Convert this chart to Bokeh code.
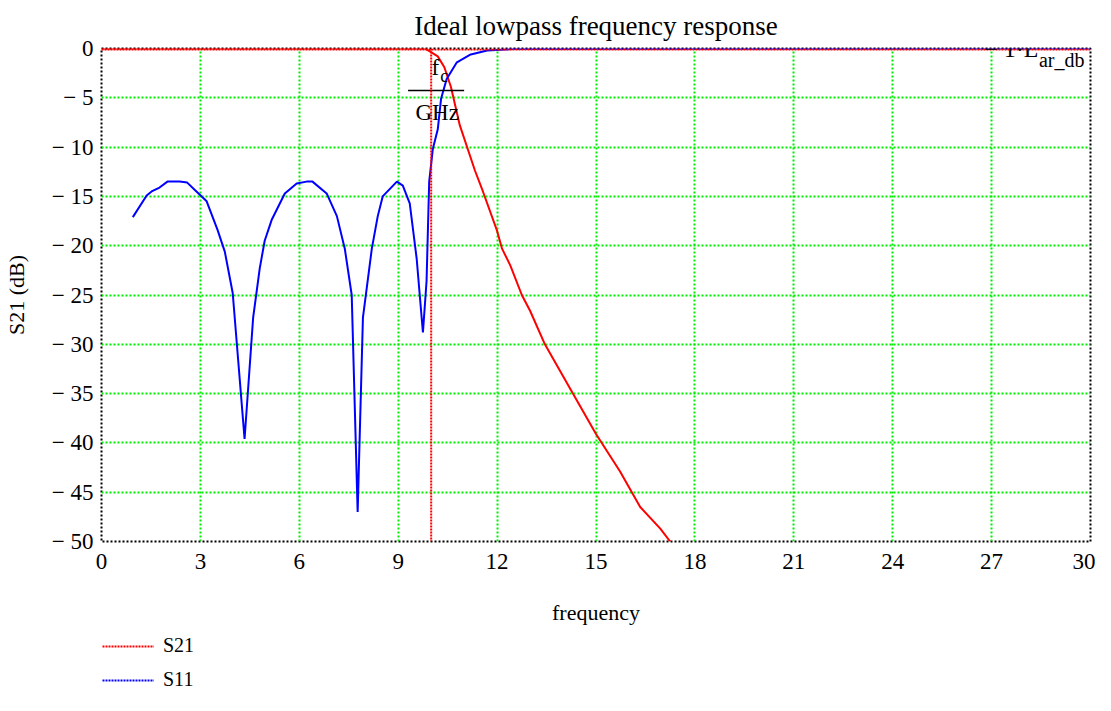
from bokeh.plotting import figure
from bokeh.layouts import column
from bokeh.models import FixedTicker, Span, Label, Legend, LegendItem, Range1d
from bokeh.embed import file_html
from bokeh.resources import INLINE

# ---- data ----
s11_freq = [0.95, 1.37, 1.52, 1.76, 2.0, 2.37, 2.6, 2.88, 3.19, 3.52, 3.74, 3.98, 4.34,
            4.6, 4.8, 4.95, 5.16, 5.56, 5.92, 6.22, 6.4, 6.83, 7.14, 7.38, 7.59, 7.77,
            7.93, 8.2, 8.38, 8.53, 8.96, 9.14, 9.35, 9.56, 9.75, 9.86, 9.94, 10.05,
            10.2, 10.3, 10.47, 10.78, 11.2, 11.7, 12.5, 30.0]
s11_db = [-17.1, -14.9, -14.5, -14.1, -13.5, -13.5, -13.6, -14.5, -15.5, -18.4, -20.6, -24.8, -39.6,
          -27.3, -22.3, -19.5, -17.4, -14.7, -13.7, -13.5, -13.5, -14.7, -17.0, -20.3, -25.0, -47.0,
          -27.3, -20.3, -17.0, -15.0, -13.5, -13.9, -15.7, -21.3, -28.8, -23.6, -13.5, -10.2,
          -8.2, -5.1, -3.1, -1.4, -0.6, -0.2, -0.05, 0.0]
s21_freq = [0.0, 9.8, 9.96, 10.2, 10.4, 10.6, 10.87, 11.33, 11.57, 12.0, 12.15, 12.4, 12.75,
            13.0, 13.45, 14.2, 15.0, 15.73, 16.34, 16.95, 17.25]
s21_db = [0.0, 0.0, -0.3, -0.8, -1.9, -3.9, -7.8, -12.4, -14.5, -18.5, -20.3, -22.0, -25.0,
          -26.6, -30.0, -34.4, -39.1, -42.9, -46.5, -48.7, -50.0]
fc = 10.0
L_ar_db = 0.1
x_ticks = [0, 3, 6, 9, 12, 15, 18, 21, 24, 27, 30]
y_ticks = [0, -5, -10, -15, -20, -25, -30, -35, -40, -45, -50]
y_tick_labels = ["0"] + ["\u2212 %d" % (-v) for v in y_ticks[1:]]
series_names = ["S21", "S11"]
series_colors = ["red", "blue"]

FONT = "Liberation Serif"
x_lo, x_hi = x_ticks[0], x_ticks[-1]
y_lo, y_hi = y_ticks[-1], y_ticks[0]

p = figure(width=1095, height=627, output_backend="svg", toolbar_location=None,
           x_range=Range1d(x_lo, x_hi), y_range=Range1d(y_lo, y_hi),
           min_border_left=96, min_border_right=5, min_border_top=41, min_border_bottom=84,
           title="Ideal lowpass frequency response")
p.title.align = "center"
p.title.text_font = FONT
p.title.text_font_size = "27px"
p.title.text_font_style = "normal"
p.title.text_color = "black"
p.title.standoff = 16

p.outline_line_color = "black"
p.outline_line_width = 2
p.outline_line_dash = "2 2"

for ax in (p.xaxis[0], p.yaxis[0]):
    ax.axis_line_color = None
    ax.major_tick_line_color = None
    ax.minor_tick_line_color = None
    ax.major_label_text_font = FONT
    ax.major_label_text_font_size = "23px"
    ax.major_label_text_color = "black"
    ax.axis_label_text_font = FONT
    ax.axis_label_text_font_size = "22px"
    ax.axis_label_text_font_style = "normal"
    ax.axis_label_text_color = "black"

p.xaxis.ticker = FixedTicker(ticks=x_ticks)
p.yaxis.ticker = FixedTicker(ticks=y_ticks)
p.yaxis.major_label_overrides = {v: s for v, s in zip(y_ticks, y_tick_labels)}
p.xaxis.axis_label = "frequency"
p.yaxis.axis_label = "S21 (dB)"
p.xaxis.major_label_standoff = 6
p.yaxis.major_label_standoff = 2
p.xaxis.axis_label_standoff = 28
p.yaxis.axis_label_standoff = 20

for g in (p.xgrid[0], p.ygrid[0]):
    g.grid_line_color = "#00ee00"
    g.grid_line_width = 2
    g.grid_line_dash = "2 2"

# markers
p.add_layout(Span(location=fc, dimension="height", line_color="red", line_width=2, line_dash="2 1"))
p.add_layout(Span(location=-L_ar_db, dimension="width", line_color="red", line_width=2, line_dash="2 1"))

p.line(s21_freq, s21_db, line_color=series_colors[0], line_width=2)
p.line(s11_freq, s11_db, line_color=series_colors[1], line_width=2)

# marker labels
p.add_layout(Label(x=fc, y=-1.9, text="f", text_font=FONT, text_font_size="23px",
                   text_align="right", text_baseline="middle", x_offset=8, text_color="black"))
p.add_layout(Label(x=fc, y=-2.8, text="c", text_font=FONT, text_font_size="18px",
                   text_align="left", text_baseline="middle", x_offset=9, text_color="black"))
p.segment(x0=[fc - 0.7], y0=[-4.25], x1=[fc + 1.0], y1=[-4.25], line_color="black", line_width=1.5)
p.add_layout(Label(x=fc, y=-6.5, text="GHz", text_font=FONT, text_font_size="23px",
                   text_align="center", text_baseline="middle", x_offset=6, text_color="black"))
p.add_layout(Label(x=x_hi, y=-0.1, text="\u2212 1\u00b7L", text_font=FONT, text_font_size="24px",
                   text_align="right", text_baseline="middle", x_offset=-52, text_color="black"))
p.add_layout(Label(x=x_hi, y=-1.2, text="ar_db", text_font=FONT, text_font_size="20px",
                   text_align="right", text_baseline="middle", x_offset=-6, text_color="black"))

# legend in a separate strip below the chart (frame aligned with the chart's frame)
q = figure(width=1095, height=64, output_backend="svg", toolbar_location=None,
           x_range=Range1d(100, 101), y_range=Range1d(100, 101),
           min_border_left=96, min_border_right=5, min_border_top=0, min_border_bottom=0)
q.axis.visible = False
q.grid.visible = False
q.outline_line_color = None
items = []
for name, col, fx, fy in zip(series_names, series_colors, [s21_freq, s11_freq], [s21_db, s11_db]):
    r = q.line(fx, fy, line_color=col, line_width=2, line_dash="2 1")
    items.append(LegendItem(label=name, renderers=[r]))
legend = Legend(items=items, location=(1, 0), orientation="vertical")
legend.label_text_font = FONT
legend.label_text_font_size = "20px"
legend.label_text_color = "black"
legend.glyph_width = 52
legend.glyph_height = 22
legend.label_height = 22
legend.spacing = 11
legend.padding = 0
legend.margin = 0
legend.label_standoff = 9
legend.border_line_color = None
legend.background_fill_alpha = 0
q.add_layout(legend, "center")

layout = column(p, q, spacing=0)
html = file_html(layout, INLINE)
open("out.html", "w").write(html)
